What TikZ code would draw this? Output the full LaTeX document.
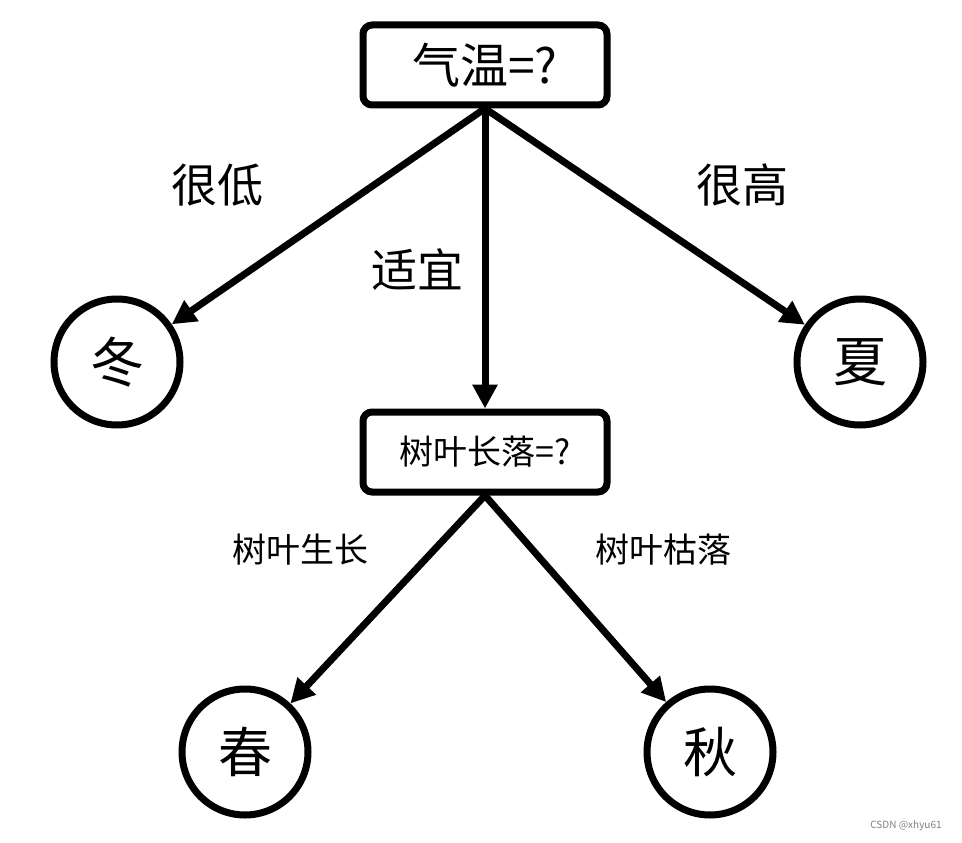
\documentclass[tikz,border=0pt]{standalone}
\usepackage{fontspec}
\setmainfont{Noto Sans CJK SC}
\usetikzlibrary{arrows.meta}
\tikzset{
  askbox/.style={draw, line width=7pt, rounded corners=9pt, minimum width=244pt, minimum height=80pt},
  season/.style={draw, circle, line width=7pt, minimum size=126pt, inner sep=0pt, font=\fontsize{54}{60}\selectfont},
  branch/.style={line width=7pt, -{Triangle[length=24pt,width=24pt]}},
  cond/.style={font=\fontsize{46}{54}\selectfont},
  leafcond/.style={font=\fontsize{34}{40}\selectfont}
}
\begin{document}
\begin{tikzpicture}[x=1pt,y=-1pt]
  \useasboundingbox (0,0) rectangle (962,843);

  % question nodes
  \node[askbox, font=\fontsize{48}{54}\selectfont] (temp) at (485,65) {气温=?};
  \node[askbox, font=\fontsize{34}{40}\selectfont] (leaf) at (485,452) {树叶长落=?};

  % seasons
  \node[season] (winter) at (117,362) {冬};
  \node[season] (summer) at (860,362) {夏};
  \node[season] (spring) at (245,752) {春};
  \node[season] (autumn) at (710,752) {秋};

  % edges
  \draw[branch] (temp.south) -- (winter);
  \draw[branch] (temp.south) -- (leaf.north);
  \draw[branch] (temp.south) -- (summer);
  \draw[branch] (leaf.south) -- (spring);
  \draw[branch] (leaf.south) -- (autumn);

  % edge labels
  \node[cond] (low) at (217,185) {很低};
  \node[cond] (mild) at (417,270) {适宜};
  \node[cond] (high) at (742,185) {很高};
  \node[leafcond] (grow) at (300,550) {树叶生长};
  \node[leafcond] (fall) at (663,550) {树叶枯落};

  \node[text=gray, font=\fontsize{10}{12}\selectfont] (mark) at (906,826) {CSDN @xhyu61};
\end{tikzpicture}
\end{document}
